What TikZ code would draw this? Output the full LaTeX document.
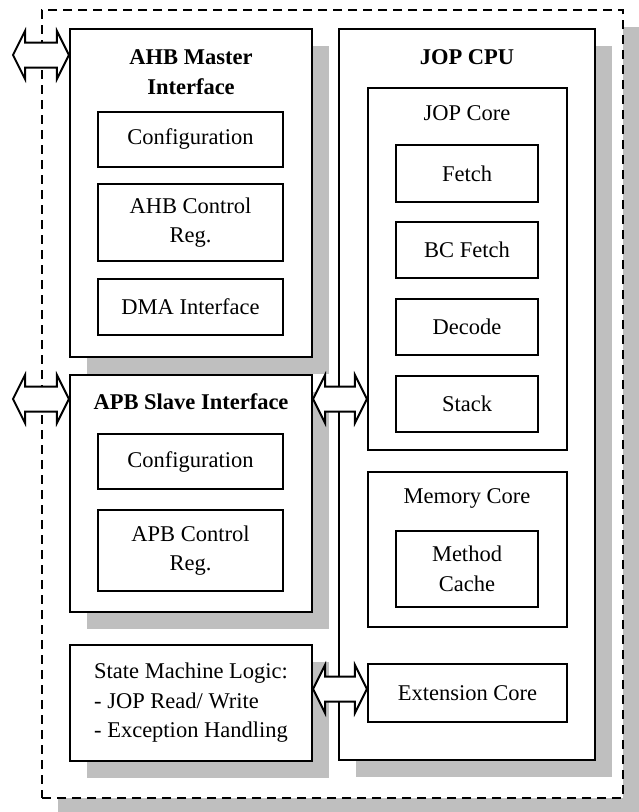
\documentclass[tikz,border=0pt]{standalone}
\usepackage{fontspec}
\setmainfont{Liberation Serif}
\usetikzlibrary{calc,shadows}

\tikzset{
    unit/.style={draw, line width=2.2pt, fill=white, drop shadow={shadow xshift=17pt, shadow yshift=-17pt, fill=black!25, opacity=1}},
    part/.style={draw, line width=2.2pt, fill=white, align=center},
    bus/.style={draw, line width=2pt, fill=white, to path={let \p1=(\tikztostart), \p2=(\tikztotarget) in
        (\x1,\y1) -- (\x1+12pt,\y1+24pt) -- (\x1+12pt,\y1+12.5pt) -- (\x2-12pt,\y1+12.5pt) -- (\x2-12pt,\y1+24pt) -- (\x2,\y1)
        -- (\x2-12pt,\y1-24pt) -- (\x2-12pt,\y1-12.5pt) -- (\x1+12pt,\y1-12.5pt) -- (\x1+12pt,\y1-24pt) -- cycle}}
}

\begin{document}
\begin{tikzpicture}[x=1pt, y=-1pt, font=\fontsize{22.5}{29.5}\selectfont]
            \useasboundingbox (0,0) rectangle (638,812);
            \node (top) at (332.5,404) [draw, line width=2.8pt, dash pattern=on 9pt off 6pt, fill=white, minimum width=581pt, minimum height=788pt, drop shadow={shadow xshift=16pt, shadow yshift=-17pt, fill=black!25, opacity=1}] {};

            \node (ahb) at (191,193) [unit, minimum width=242pt, minimum height=328pt] {};
            \node (apb) at (191,493.5) [unit, minimum width=242pt, minimum height=237pt] {};
            \node (sml) at (191,703) [unit, minimum width=242pt, minimum height=116pt, align=left] {State Machine Logic:\\- JOP Read/ Write\\- Exception Handling};
            \node (cpu) at (467,394.5) [unit, minimum width=256pt, minimum height=731pt] {};

            \node (ahbtitle) at (191,72) [align=center, font=\fontsize{22.5}{29.5}\selectfont\bfseries] {AHB Master\\Interface};
            \node (ahbconf) at (190.5,139.5) [part, minimum width=185pt, minimum height=55pt] {Configuration};
            \node (ahbctrl) at (190.5,222.5) [part, minimum width=185pt, minimum height=77pt] {AHB Control\\Reg.};
            \node (dma) at (190.5,307) [part, minimum width=185pt, minimum height=56pt] {DMA Interface};

            \node (apbtitle) at (191,402) [font=\fontsize{22.5}{29.5}\selectfont\bfseries] {APB Slave Interface};
            \node (apbconf) at (190.5,461.5) [part, minimum width=185pt, minimum height=55pt] {Configuration};
            \node (apbctrl) at (190.5,550.5) [part, minimum width=185pt, minimum height=81pt] {APB Control\\Reg.};

            \node (cputitle) at (467,57) [font=\fontsize{22.5}{29.5}\selectfont\bfseries] {JOP CPU};
            \node (jopcore) at (467.5,269) [part, minimum width=199pt, minimum height=362pt] {};
            \node (coretitle) at (467,113) {JOP Core};
            \node (fetch) at (467,173.5) [part, minimum width=142pt, minimum height=57pt] {Fetch};
            \node (bcfetch) at (467,250) [part, minimum width=142pt, minimum height=56pt] {BC Fetch};
            \node (decode) at (467,327) [part, minimum width=142pt, minimum height=56pt] {Decode};
            \node (stack) at (467,404) [part, minimum width=142pt, minimum height=56pt] {Stack};

            \node (memcore) at (467.5,549.5) [part, minimum width=199pt, minimum height=155pt] {};
            \node (memtitle) at (467,498) {Memory Core};
            \node (cache) at (467,569) [part, minimum width=142pt, minimum height=76pt] {Method\\Cache};
            \node (ext) at (467.5,693) [part, minimum width=199pt, minimum height=58pt] {Extension Core};

            \coordinate (ahbport) at (13,55);
            \coordinate (apbport) at (13,399);
            \draw [bus] (ahbport) to (ahb.west |- ahbport);
            \draw [bus] (apbport) to (apb.west |- apbport);
            \draw [bus] (apb.east |- apbport) to (jopcore.west |- apbport);
            \draw [bus] ([yshift=4pt]sml.east |- ext.west) to ([yshift=4pt]ext.west);
        \end{tikzpicture}
\end{document}
